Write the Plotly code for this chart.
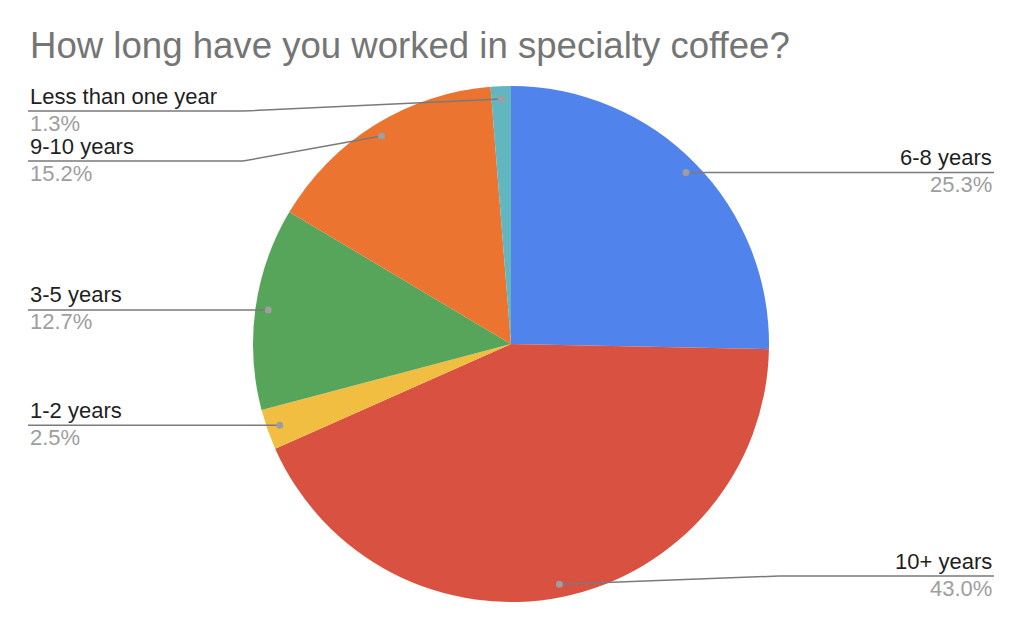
import math
import plotly.graph_objects as go

# ---- data ----
categories = ["6-8 years", "10+ years", "1-2 years", "3-5 years", "9-10 years", "Less than one year"]
responses = [20, 34, 2, 10, 12, 1]
slice_colors = ["#5083EB", "#D95140", "#F1BE42", "#57A55A", "#EB7430", "#62B6BF"]
title_text = "How long have you worked in specialty coffee?"

# ---- layout geometry (pixels) ----
W, H = 1024, 632
CX, CY, R = 511, 344, 258
DOT_FRAC = 0.95
EDGE_L, EDGE_R = 28, 994
KNEE_GAP = 10
LABEL_MIN_Y, LABEL_MAX_Y, LABEL_GAP = 111, 576, 50


def px(x):
    return x / W


def py(y):
    return 1 - y / H


fig = go.Figure()
fig.add_trace(go.Pie(
    labels=categories,
    values=responses,
    sort=False,
    direction="clockwise",
    rotation=0,
    marker=dict(colors=slice_colors, line=dict(width=0)),
    textinfo="none",
    hoverinfo="label+percent",
    showlegend=False,
    domain=dict(x=[px(CX - R), px(CX + R)], y=[py(CY + R), py(CY - R)]),
))

total = sum(responses)
items = []
cum = 0
for name, v in zip(categories, responses):
    theta = 2 * math.pi * (cum + v / 2) / total
    cum += v
    dx = CX + DOT_FRAC * R * math.sin(theta)
    dy = CY - DOT_FRAC * R * math.cos(theta)
    pct = f"{100 * v / total:.1f}%"
    items.append(dict(name=name, pct=pct, dx=dx, dy=dy, right=dx >= CX))

shapes = []
annotations = []
for side_right in (True, False):
    side = sorted([it for it in items if it["right"] == side_right], key=lambda it: it["dy"])
    prev = -1e9
    for it in side:
        yl = max(it["dy"], prev + LABEL_GAP, LABEL_MIN_Y)
        yl = min(yl, LABEL_MAX_Y)
        prev = yl
        if side_right:
            edge, knee, anchor = EDGE_R, CX + R + KNEE_GAP, "right"
        else:
            edge, knee, anchor = EDGE_L, CX - R - KNEE_GAP, "left"
        if (side_right and it["dx"] > knee) or (not side_right and it["dx"] < knee):
            knee = it["dx"]
        path = f"M {px(edge)} {py(yl)} L {px(knee)} {py(yl)} L {px(it['dx'])} {py(it['dy'])}"
        shapes.append(dict(type="path", xref="paper", yref="paper", path=path,
                           line=dict(color="#7a7a7a", width=1.5)))
        rr = 3.5
        shapes.append(dict(type="circle", xref="paper", yref="paper",
                           x0=px(it["dx"] - rr), x1=px(it["dx"] + rr),
                           y0=py(it["dy"] + rr), y1=py(it["dy"] - rr),
                           fillcolor="#9e9e9e", line=dict(width=0)))
        annotations.append(dict(x=px(edge), y=py(yl - 15), xref="paper", yref="paper",
                                xanchor=anchor, yanchor="middle", showarrow=False,
                                text=it["name"], font=dict(size=22, color="#1f1f1f")))
        annotations.append(dict(x=px(edge), y=py(yl + 12), xref="paper", yref="paper",
                                xanchor=anchor, yanchor="middle", showarrow=False,
                                text=it["pct"], font=dict(size=22, color="#9e9e9e")))

annotations.append(dict(x=px(28), y=py(45.5), xref="paper", yref="paper",
                        xanchor="left", yanchor="middle", showarrow=False,
                        text=title_text, font=dict(size=36.6, color="#757575")))

fig.update_layout(
    width=W, height=H,
    margin=dict(l=0, r=0, t=0, b=0),
    paper_bgcolor="white",
    plot_bgcolor="white",
    font=dict(family="Liberation Sans, Arial, sans-serif"),
    shapes=shapes,
    annotations=annotations,
)

fig.write_html("out.html", config={"displayModeBar": False},
               post_script="document.body.style.margin='0';")
